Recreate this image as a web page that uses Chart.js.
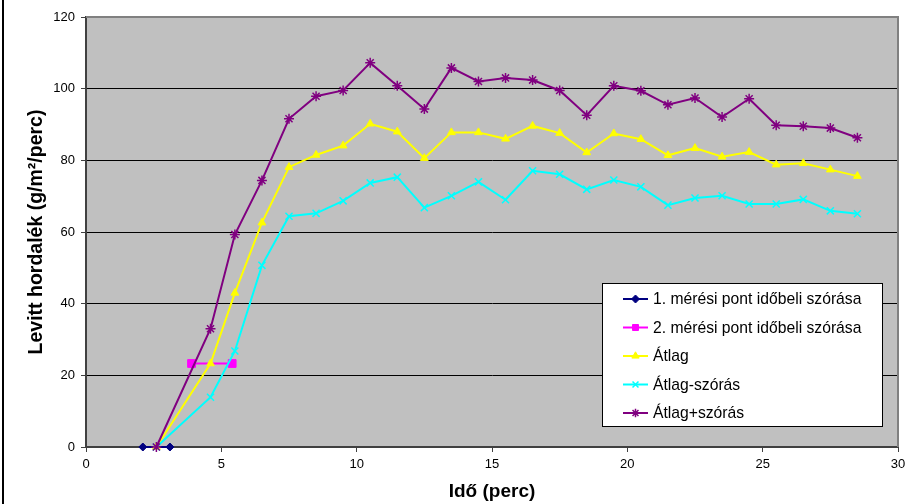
<!DOCTYPE html>
<html>
<head>
<meta charset="utf-8">
<script src="https://cdn.jsdelivr.net/npm/chart.js@4/dist/chart.umd.min.js"></script>
<style>
html,body{margin:0;padding:0;background:#fff;}
#wrap{position:relative;width:922px;height:504px;}
</style>
</head>
<body>
<div id="wrap"><canvas id="c" width="922" height="504"></canvas></div>
<script>
// ---- data ----
const seriesNames = [
  '1. mérési pont időbeli szórása',
  '2. mérési pont időbeli szórása',
  'Átlag',
  'Átlag-szórás',
  'Átlag+szórás'
];
const point1X = [2.1, 3.1];
const point1Y = [0, 0];
const point2X = [3.9, 5.4];
const point2Y = [23.3, 23.3];
const times = [2.6, 4.6, 5.5, 6.5, 7.5, 8.5, 9.5, 10.5, 11.5, 12.5, 13.5, 14.5, 15.5,
               16.5, 17.5, 18.5, 19.5, 20.5, 21.5, 22.5, 23.5, 24.5, 25.5, 26.5, 27.5, 28.5];
const atlag = [0, 23.3, 43.0, 62.6, 78.1, 81.5, 84.1, 90.2, 88.0, 80.6, 87.8, 87.8, 86.0,
               89.6, 87.6, 82.2, 87.5, 85.9, 81.4, 83.4, 81.0, 82.3, 78.8, 79.2, 77.4, 75.6];
const atlagMinusSzoras = [0, 13.9, 26.8, 50.7, 64.4, 65.2, 68.7, 73.7, 75.3, 66.8, 70.1, 74.0, 69.0,
               77.1, 76.1, 71.9, 74.5, 72.6, 67.5, 69.5, 70.1, 67.8, 67.8, 69.1, 65.9, 65.1];
const atlagPlusSzoras = [0, 33.0, 59.3, 74.4, 91.6, 97.9, 99.5, 107.2, 100.8, 94.3, 105.8, 102.0, 103.0,
               102.4, 99.5, 92.6, 100.8, 99.4, 95.5, 97.4, 92.1, 97.2, 89.8, 89.5, 89.0, 86.3];
const xTicks = [0, 5, 10, 15, 20, 25, 30];
const yTicks = [0, 20, 40, 60, 80, 100, 120];
const xTitle = 'Idő (perc)';
const yTitle = 'Levitt hordalék (g/m²/perc)';

// ---- styling ----
const FONT = '"Liberation Sans", Arial, sans-serif';
const styles = [
  {color:'#000080', pointStyle:'rectRot', radius:4, bw:2, pbw:1},
  {color:'#FF00FF', pointStyle:'rect', radius:5.5, bw:2, pbw:1},
  {color:'#FFFF00', pointStyle:'triangle', radius:4.5, bw:2, pbw:1},
  {color:'#00FFFF', pointStyle:'crossRot', radius:5, bw:2, pbw:1.5},
  {color:'#800080', pointStyle:'star', radius:5, bw:2, pbw:1.5}
];

function zip(xs, ys){ return xs.map((x,i)=>({x:x, y:ys[i]})); }
const seriesData = [
  zip(point1X, point1Y),
  zip(point2X, point2Y),
  zip(times, atlag),
  zip(times, atlagMinusSzoras),
  zip(times, atlagPlusSzoras)
];

const datasets = seriesData.map((d,i)=>({
  label: seriesNames[i],
  data: d,
  showLine: true,
  borderColor: styles[i].color,
  backgroundColor: styles[i].color,
  pointBackgroundColor: styles[i].color,
  pointBorderColor: styles[i].color,
  pointStyle: styles[i].pointStyle,
  pointRadius: styles[i].radius,
  pointHoverRadius: styles[i].radius,
  pointBorderWidth: styles[i].pbw,
  borderWidth: styles[i].bw,
  tension: 0,
  clip: false,
  order: 5 - i
}));

function drawMarker(ctx, style, x, y, r, color, lw){
  ctx.save();
  ctx.fillStyle = color; ctx.strokeStyle = color; ctx.lineWidth = lw;
  ctx.beginPath();
  if (style === 'rectRot'){
    ctx.moveTo(x, y-r); ctx.lineTo(x+r, y); ctx.lineTo(x, y+r); ctx.lineTo(x-r, y); ctx.closePath();
    ctx.fill(); ctx.stroke();
  } else if (style === 'rect'){
    const s = r*Math.SQRT1_2;
    ctx.rect(x-s, y-s, 2*s, 2*s); ctx.fill(); ctx.stroke();
  } else if (style === 'triangle'){
    for (let k=0;k<3;k++){
      const a = k*2*Math.PI/3;
      const px = x + Math.sin(a)*r, py = y - Math.cos(a)*r;
      if (k===0) ctx.moveTo(px,py); else ctx.lineTo(px,py);
    }
    ctx.closePath(); ctx.fill(); ctx.stroke();
  } else if (style === 'crossRot' || style === 'star'){
    const o = r*Math.SQRT1_2;
    ctx.moveTo(x-o,y-o); ctx.lineTo(x+o,y+o);
    ctx.moveTo(x-o,y+o); ctx.lineTo(x+o,y-o);
    if (style === 'star'){
      ctx.moveTo(x,y-r); ctx.lineTo(x,y+r);
      ctx.moveTo(x-r,y); ctx.lineTo(x+r,y);
    }
    ctx.stroke();
  }
  ctx.restore();
}

const framePlugin = {
  id: 'frame',
  beforeDraw(chart){
    const {ctx, chartArea:a} = chart;
    ctx.save();
    ctx.fillStyle = '#ffffff';
    ctx.fillRect(0,0,chart.width,chart.height);
    ctx.fillStyle = '#C0C0C0';
    ctx.fillRect(a.left, a.top, a.right-a.left, a.bottom-a.top);
    ctx.restore();
  },
  beforeDatasetsDraw(chart){
    const {ctx, chartArea:a} = chart;
    ctx.save();
    ctx.strokeStyle = '#808080';
    ctx.lineWidth = 2;
    ctx.beginPath();
    ctx.moveTo(a.left, a.top); ctx.lineTo(a.right, a.top); ctx.lineTo(a.right, a.bottom);
    ctx.stroke();
    ctx.restore();
  },
  afterDraw(chart){
    const ctx = chart.ctx;
    ctx.save();
    // outer left border of the picture
    ctx.strokeStyle = '#000000';
    ctx.lineWidth = 2;
    ctx.beginPath(); ctx.moveTo(3, 0); ctx.lineTo(3, chart.height); ctx.stroke();
    // legend
    const lx = 602, ly = 283, lw = 280, lh = 143;
    ctx.fillStyle = '#ffffff';
    ctx.fillRect(lx, ly, lw, lh);
    ctx.strokeStyle = '#000000';
    ctx.lineWidth = 1;
    ctx.strokeRect(lx+0.5, ly+0.5, lw, lh);
    ctx.font = '15.7px ' + FONT;
    ctx.textBaseline = 'middle';
    ctx.textAlign = 'left';
    seriesNames.forEach((name,i)=>{
      const y = ly + 16 + i*28.5;
      const st = styles[i];
      ctx.strokeStyle = st.color; ctx.lineWidth = 2;
      ctx.beginPath(); ctx.moveTo(623, y); ctx.lineTo(648, y); ctx.stroke();
      drawMarker(ctx, st.pointStyle, 635.5, y, Math.min(st.radius, 4.2), st.color, st.pbw);
      ctx.fillStyle = '#000000';
      ctx.fillText(name, 653, y + 1);
    });
    ctx.restore();
  }
};

new Chart(document.getElementById('c'), {
  type: 'scatter',
  data: { datasets },
  plugins: [framePlugin],
  options: {
    responsive: false,
    animation: false,
    devicePixelRatio: 1,
    layout: { padding: { left: 0, top: 17, right: 24, bottom: 0 } },
    plugins: { legend: { display: false }, tooltip: { enabled: false } },
    scales: {
      x: {
        type: 'linear', min: 0, max: 30,
        afterBuildTicks(s){ s.ticks = xTicks.map(v=>({value:v})); },
        ticks: { color: '#000', font: { size: 13, family: FONT }, padding: 5, maxRotation: 0, autoSkip: false },
        grid: { drawOnChartArea: false, drawTicks: true, tickLength: 5, tickColor: '#404040', tickWidth: 1 },
        border: { color: '#404040', width: 2 },
        title: { display: true, text: xTitle, color: '#000', font: { size: 19, weight: 'bold', family: FONT }, padding: { top: 0, bottom: 1 } },
        afterFit(s){ s.height = 57; }
      },
      y: {
        type: 'linear', min: 0, max: 120,
        afterBuildTicks(s){ s.ticks = yTicks.map(v=>({value:v})); },
        ticks: { color: '#000', font: { size: 13, family: FONT }, padding: 6 },
        grid: {
          color: c => (c.tick && c.tick.value === 0) ? 'rgba(0,0,0,0)' : (c.tick && c.tick.value === 120 ? '#808080' : '#000000'),
          lineWidth: 1, drawTicks: true, tickLength: 5, tickColor: '#404040', tickWidth: 1
        },
        border: { color: '#404040', width: 2 },
        title: { display: true, text: yTitle, color: '#000', font: { size: 19.5, weight: 'bold', family: FONT }, padding: { top: 25, bottom: 0 } },
        afterFit(s){ s.width = 86; }
      }
    }
  }
});
</script>
</body>
</html>
